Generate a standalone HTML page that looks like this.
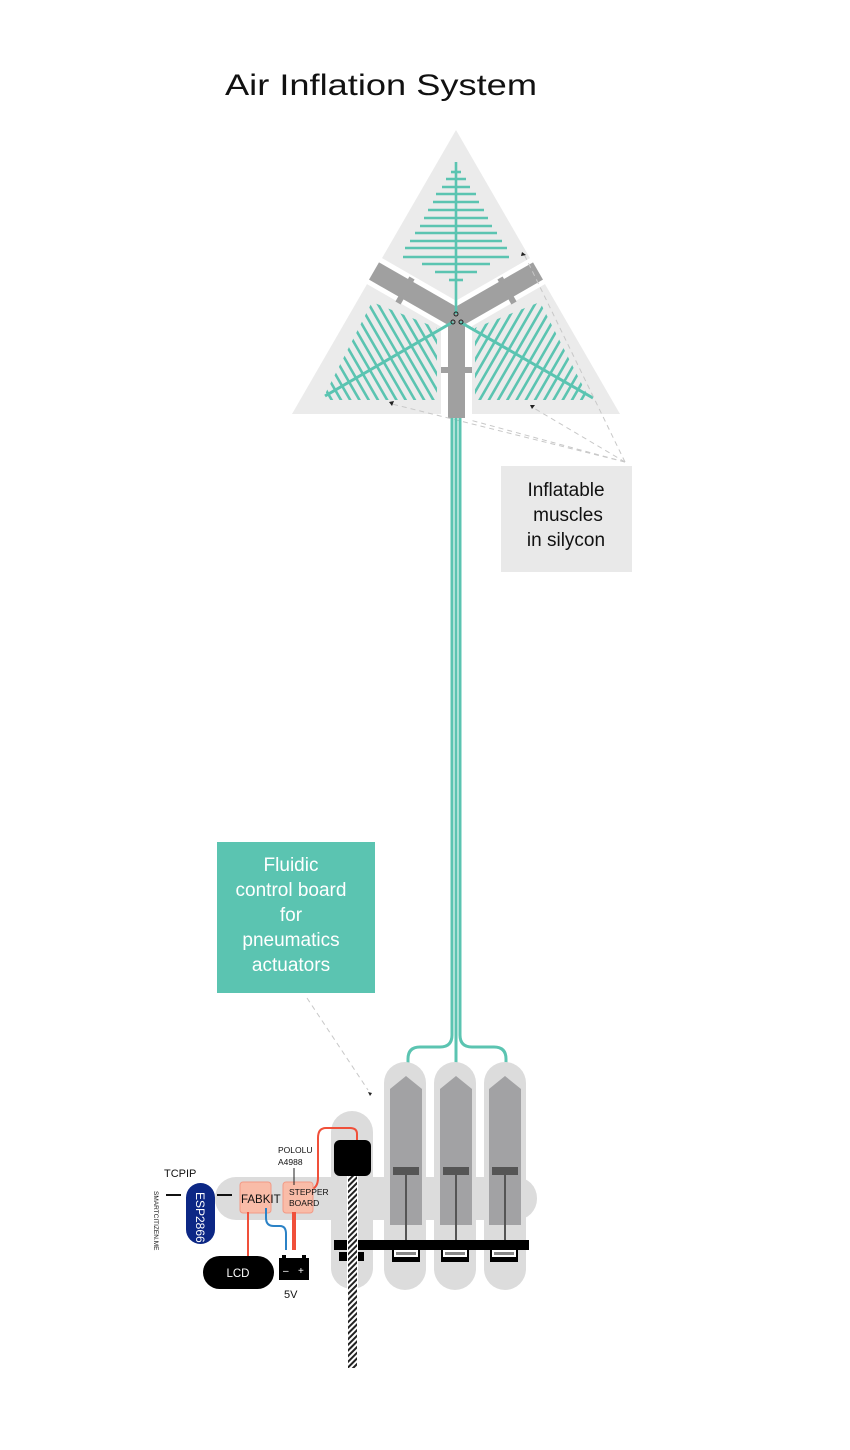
<!DOCTYPE html>
<html><head><meta charset="utf-8">
<style>
html,body{margin:0;padding:0;background:#fff;}
svg{display:block;}
text{font-family:"Liberation Sans",sans-serif;}
</style></head>
<body>
<svg width="850" height="1450" viewBox="0 0 850 1450" xmlns="http://www.w3.org/2000/svg">
<defs>
<pattern id="hatch" width="4" height="4" patternUnits="userSpaceOnUse" patternTransform="rotate(45)">
<rect width="4" height="4" fill="#fff"/><rect width="2" height="4" fill="#222"/>
</pattern>
<clipPath id="cl"><polygon points="322,400 437,400 437,328 372,302"/></clipPath>
<clipPath id="cr"><polygon points="590,400 475,400 475,328 540,302"/></clipPath>
</defs>

<text x="225" y="95" font-size="30" textLength="312" lengthAdjust="spacingAndGlyphs" fill="#111">Air Inflation System</text>

<!-- triangle -->
<polygon points="456,130 620,414 292,414" fill="#ebebeb"/>
<g stroke="#fff" stroke-width="30" stroke-linecap="butt">
<line x1="456" y1="318" x2="350" y2="257"/>
<line x1="456" y1="318" x2="562" y2="257"/>
</g>
<rect x="441" y="318" width="31" height="100" fill="#fff"/>
<g stroke="#a0a0a0" stroke-width="20">
<line x1="456" y1="318" x2="374" y2="271"/>
<line x1="456" y1="318" x2="538" y2="271"/>
</g>
<rect x="448" y="318" width="17" height="100" fill="#a0a0a0"/>
<g stroke="#a0a0a0" stroke-width="6">
<line x1="412" y1="278" x2="404" y2="292"/>
<line x1="398" y1="303" x2="406" y2="289"/>
<line x1="500" y1="278" x2="508" y2="292"/>
<line x1="514" y1="303" x2="506" y2="289"/>
<line x1="441" y1="370" x2="472" y2="370"/>
</g>

<!-- top tree -->
<g stroke="#5bc4b1" stroke-width="2.6">
<line x1="456" y1="162" x2="456" y2="314"/>
<line x1="451" y1="172" x2="461" y2="172"/>
<line x1="446" y1="179" x2="466" y2="179"/>
<line x1="442" y1="187" x2="470" y2="187"/>
<line x1="436" y1="194" x2="476" y2="194"/>
<line x1="433" y1="202" x2="479" y2="202"/>
<line x1="428" y1="210" x2="484" y2="210"/>
<line x1="424" y1="218" x2="488" y2="218"/>
<line x1="420" y1="226" x2="492" y2="226"/>
<line x1="415" y1="233" x2="497" y2="233"/>
<line x1="410" y1="241" x2="502" y2="241"/>
<line x1="405" y1="248" x2="507" y2="248"/>
<line x1="403" y1="257" x2="509" y2="257"/>
<line x1="422" y1="264" x2="490" y2="264"/>
<line x1="435" y1="272" x2="477" y2="272"/>
<line x1="449" y1="280" x2="463" y2="280"/>
</g>
<!-- left tree -->
<g clip-path="url(#cl)" stroke="#5bc4b1" stroke-width="2.6">
<g transform="translate(453,322) rotate(150)">
<line x1="16" y1="-90" x2="16" y2="90"/><line x1="24" y1="-90" x2="24" y2="90"/>
<line x1="32" y1="-90" x2="32" y2="90"/><line x1="40" y1="-90" x2="40" y2="90"/>
<line x1="48" y1="-90" x2="48" y2="90"/><line x1="56" y1="-90" x2="56" y2="90"/>
<line x1="64" y1="-90" x2="64" y2="90"/><line x1="72" y1="-90" x2="72" y2="90"/>
<line x1="80" y1="-90" x2="80" y2="90"/><line x1="88" y1="-90" x2="88" y2="90"/>
<line x1="96" y1="-90" x2="96" y2="90"/><line x1="104" y1="-90" x2="104" y2="90"/>
<line x1="112" y1="-90" x2="112" y2="90"/><line x1="120" y1="-90" x2="120" y2="90"/>
<line x1="128" y1="-90" x2="128" y2="90"/><line x1="136" y1="-90" x2="136" y2="90"/>
<line x1="144" y1="-90" x2="144" y2="90"/>
</g></g>
<line x1="453" y1="322" x2="325" y2="396" stroke="#5bc4b1" stroke-width="3"/>
<!-- right tree -->
<g clip-path="url(#cr)" stroke="#5bc4b1" stroke-width="2.6">
<g transform="translate(460,322) rotate(30)">
<line x1="16" y1="-90" x2="16" y2="90"/><line x1="24" y1="-90" x2="24" y2="90"/>
<line x1="32" y1="-90" x2="32" y2="90"/><line x1="40" y1="-90" x2="40" y2="90"/>
<line x1="48" y1="-90" x2="48" y2="90"/><line x1="56" y1="-90" x2="56" y2="90"/>
<line x1="64" y1="-90" x2="64" y2="90"/><line x1="72" y1="-90" x2="72" y2="90"/>
<line x1="80" y1="-90" x2="80" y2="90"/><line x1="88" y1="-90" x2="88" y2="90"/>
<line x1="96" y1="-90" x2="96" y2="90"/><line x1="104" y1="-90" x2="104" y2="90"/>
<line x1="112" y1="-90" x2="112" y2="90"/><line x1="120" y1="-90" x2="120" y2="90"/>
<line x1="128" y1="-90" x2="128" y2="90"/><line x1="136" y1="-90" x2="136" y2="90"/>
<line x1="144" y1="-90" x2="144" y2="90"/>
</g></g>
<line x1="460" y1="322" x2="593" y2="398" stroke="#5bc4b1" stroke-width="3"/>
<g fill="none" stroke="#222" stroke-width="1">
<circle cx="456" cy="314" r="2"/><circle cx="453" cy="322" r="2"/><circle cx="461" cy="322" r="2"/>
</g>

<!-- dashed leader lines -->
<g stroke="#c8c8c8" stroke-width="1" stroke-dasharray="5,4" fill="none">
<line x1="625" y1="462" x2="392" y2="404"/>
<line x1="625" y1="462" x2="532" y2="407"/>
<line x1="625" y1="462" x2="524" y2="254"/>
<line x1="625" y1="462" x2="470" y2="420"/>
<line x1="307" y1="998" x2="368" y2="1090"/>
</g>
<g fill="#222">
<polygon points="389,402 394,401 392,406"/>
<polygon points="530,405 535,405 532,409"/>
<polygon points="522,252 526,255 521,256"/>
<polygon points="368,1092 372,1093 370,1096"/>
</g>

<!-- labels -->
<rect x="501" y="466" width="131" height="106" fill="#e9e9e9"/>
<g font-size="19" fill="#111" text-anchor="middle">
<text x="566" y="496">Inflatable</text>
<text x="568" y="521">muscles</text>
<text x="566" y="546">in silycon</text>
</g>
<rect x="217" y="842" width="158" height="151" fill="#5bc4b1"/>
<g font-size="19" fill="#fff" text-anchor="middle">
<text x="291" y="871">Fluidic</text>
<text x="291" y="896">control board</text>
<text x="291" y="921">for</text>
<text x="291" y="946">pneumatics</text>
<text x="291" y="971">actuators</text>
</g>

<!-- tubes -->
<g stroke="#5bc4b1" stroke-width="3" fill="none">
<path d="M452 418 V1035 Q452 1047 440 1047 H420 Q408 1047 408 1059 V1080"/>
<path d="M456 418 V1080"/>
<path d="M460 418 V1035 Q460 1047 472 1047 H494 Q506 1047 506 1059 V1080"/>
</g>

<!-- board -->
<rect x="215" y="1177" width="322" height="43" rx="21" fill="#dcdcdc"/>
<rect x="331" y="1111" width="42" height="178" rx="21" fill="#dcdcdc"/>
<rect x="384" y="1062" width="42" height="228" rx="21" fill="#dcdcdc"/>
<rect x="434" y="1062" width="42" height="228" rx="21" fill="#dcdcdc"/>
<rect x="484" y="1062" width="42" height="228" rx="21" fill="#dcdcdc"/>
<g fill="#a2a2a4">
<polygon points="390,1089 406,1076 422,1089 422,1225 390,1225"/>
<polygon points="440,1089 456,1076 472,1089 472,1225 440,1225"/>
<polygon points="489,1089 505,1076 521,1089 521,1225 489,1225"/>
</g>
<g fill="#555">
<rect x="393" y="1167" width="26" height="8"/><rect x="405" y="1175" width="2" height="68"/>
<rect x="443" y="1167" width="26" height="8"/><rect x="455" y="1175" width="2" height="68"/>
<rect x="492" y="1167" width="26" height="8"/><rect x="504" y="1175" width="2" height="68"/>
</g>
<rect x="334" y="1240" width="195" height="10" fill="#000"/>
<g>
<rect x="392" y="1249" width="28" height="13" fill="#000"/><rect x="394" y="1250" width="24" height="7" fill="#fff"/><rect x="396" y="1252" width="20" height="3" fill="#888"/>
<rect x="441" y="1249" width="28" height="13" fill="#000"/><rect x="443" y="1250" width="24" height="7" fill="#fff"/><rect x="445" y="1252" width="20" height="3" fill="#888"/>
<rect x="490" y="1249" width="28" height="13" fill="#000"/><rect x="492" y="1250" width="24" height="7" fill="#fff"/><rect x="494" y="1252" width="20" height="3" fill="#888"/>
</g>
<rect x="339" y="1252" width="25" height="9" fill="#000"/>
<rect x="347" y="1176" width="11" height="192" fill="#fff"/>
<rect x="348" y="1176" width="9" height="192" fill="url(#hatch)"/>
<rect x="334" y="1140" width="37" height="36" rx="6" fill="#000"/>

<!-- wires -->
<path d="M357 1140 V1134 Q357 1128 350 1128 H326 Q318 1128 318 1138 V1178 Q318 1188 310 1190" stroke="#f0503a" stroke-width="2" fill="none"/>
<rect x="240" y="1182" width="31" height="31" rx="3" fill="#f9bca8" stroke="#f29a86" stroke-width="1"/>
<rect x="283" y="1182" width="30" height="31" rx="3" fill="#f9bca8" stroke="#f29a86" stroke-width="1"/>
<line x1="248" y1="1212" x2="248" y2="1257" stroke="#f0503a" stroke-width="2"/>
<path d="M266 1208 V1218 Q266 1226 274 1226 H280 Q286 1226 286 1234 V1250" stroke="#2b82c6" stroke-width="2" fill="none"/>
<line x1="294" y1="1212" x2="294" y2="1250" stroke="#f0503a" stroke-width="4"/>
<line x1="294" y1="1168" x2="294" y2="1185" stroke="#222" stroke-width="1"/>
<text x="241" y="1203" font-size="11.5" fill="#111">FABKIT</text>
<text x="289" y="1195" font-size="8.5" fill="#111">STEPPER</text>
<text x="289" y="1206" font-size="8.5" fill="#111">BOARD</text>
<text x="278" y="1153" font-size="8.5" fill="#111">POLOLU</text>
<text x="278" y="1165" font-size="8.5" fill="#111">A4988</text>

<!-- ESP -->
<line x1="166" y1="1195" x2="181" y2="1195" stroke="#111" stroke-width="2"/>
<line x1="217" y1="1195" x2="232" y2="1195" stroke="#111" stroke-width="2"/>
<rect x="186" y="1183" width="29" height="61" rx="14.5" fill="#0c2785"/>
<text transform="translate(196,1192) rotate(90)" font-size="12" fill="#fff">ESP2866</text>
<text x="164" y="1177" font-size="11" fill="#111">TCPIP</text>
<text transform="translate(154,1191) rotate(90)" font-size="6.5" fill="#111">SMARTCITIZEN.ME</text>

<!-- LCD & battery -->
<rect x="203" y="1256" width="71" height="33" rx="16.5" fill="#000"/>
<text x="238" y="1277" font-size="11.5" fill="#fff" text-anchor="middle">LCD</text>
<rect x="279" y="1258" width="30" height="22" fill="#000"/>
<rect x="282" y="1255" width="4" height="4" fill="#000"/><rect x="302" y="1255" width="4" height="4" fill="#000"/>
<text x="283" y="1274" font-size="10" fill="#fff">–</text>
<text x="298" y="1274" font-size="10" fill="#fff">+</text>
<text x="284" y="1298" font-size="11" fill="#111">5V</text>
</svg>
</body></html>
